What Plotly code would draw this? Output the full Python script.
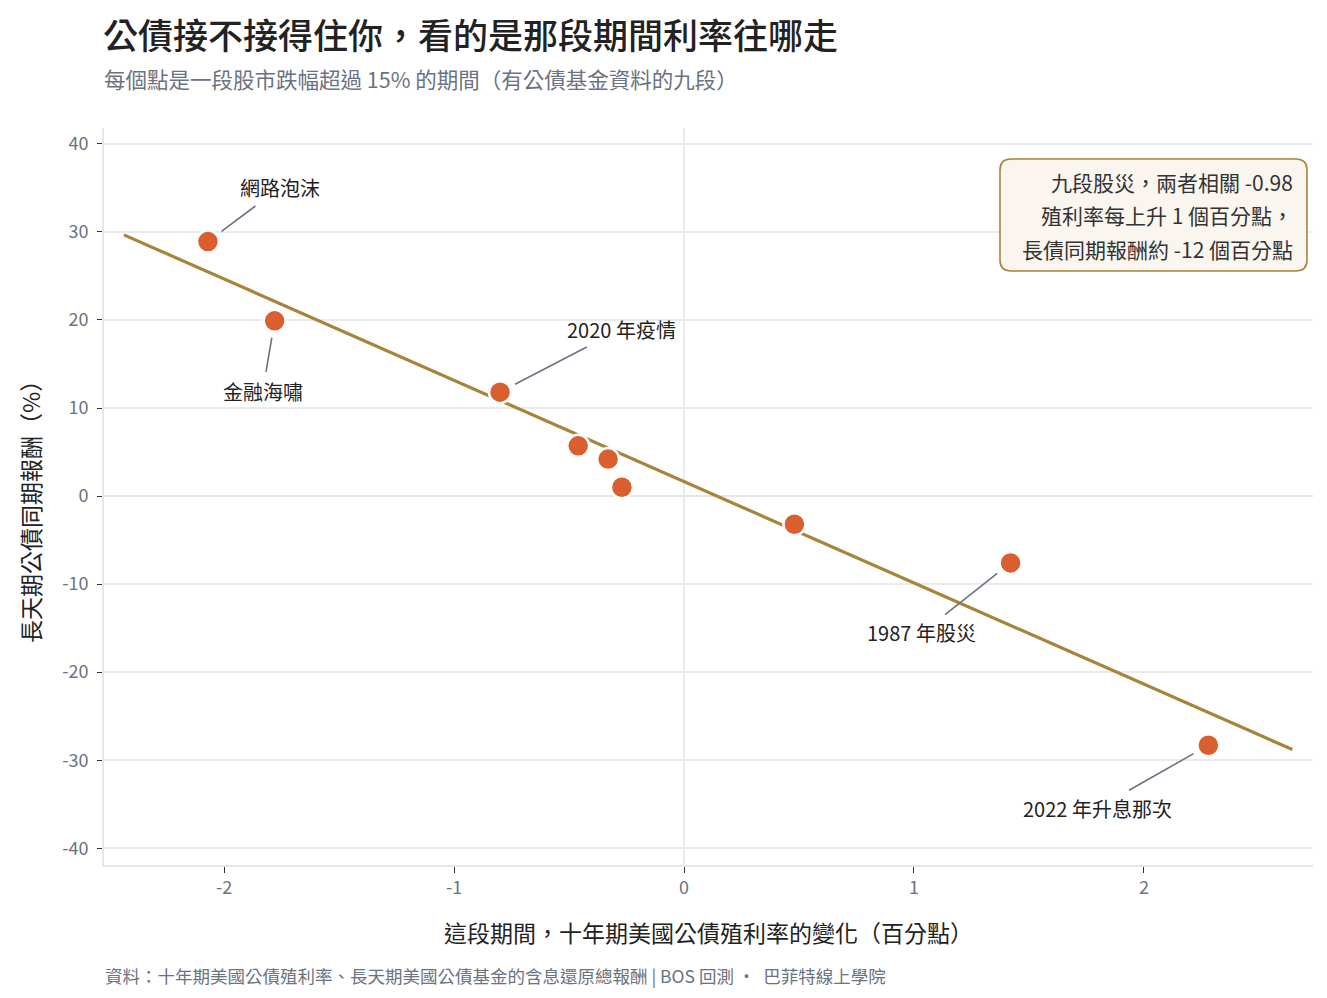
import numpy as np
import plotly.graph_objects as go

# ---- data ----
yield_change = [-2.07, -1.78, -0.80, -0.46, -0.33, -0.27, 0.48, 1.42, 2.28]
bond_return = [28.9, 19.9, 11.8, 5.7, 4.2, 1.0, -3.2, -7.6, -28.3]
episode_labels = ["網路泡沫", "金融海嘯", "2020 年疫情", "", "", "", "", "1987 年股災", "2022 年升息那次"]
x_ticks = [-2, -1, 0, 1, 2]
y_ticks = [-40, -30, -20, -10, 0, 10, 20, 30, 40]
box_lines = ["九段股災，兩者相關 -0.98", "殖利率每上升 1 個百分點，", "長債同期報酬約 -12 個百分點"]

# label offsets (pixels, text centre relative to point)
label_offsets = {
    "網路泡沫": (72, -54),
    "金融海嘯": (-12, 71),
    "2020 年疫情": (121, -63),
    "1987 年股災": (-89, 70),
    "2022 年升息那次": (-111, 63),
}

FONT = "Noto Sans CJK TC, Noto Sans, sans-serif"
DOT = "#D95F2E"
LINE = "#A6843A"
GRAY = "#6B7280"
DARK = "#222222"

x = np.array(yield_change)
y = np.array(bond_return)
slope, intercept = np.polyfit(x, y, 1)
span = x.max() - x.min()
pad = 0.084 * span
fx = np.array([x.min() - pad, x.max() + pad])
fy = slope * fx + intercept

fig = go.Figure()
fig.add_trace(go.Scatter(x=fx, y=fy, mode="lines",
                         line=dict(color=LINE, width=3.2), hoverinfo="skip", showlegend=False))
fig.add_trace(go.Scatter(x=yield_change, y=bond_return, mode="markers",
                         marker=dict(color=DOT, size=22, line=dict(color="white", width=2.5)),
                         showlegend=False))

for xi, yi, lab in zip(yield_change, bond_return, episode_labels):
    if not lab:
        continue
    ax, ay = label_offsets[lab]
    fig.add_annotation(x=xi, y=yi, xref="x", yref="y", text=lab, showarrow=True,
                       ax=ax, ay=ay, arrowhead=0, arrowwidth=1.6, arrowcolor=GRAY,
                       standoff=17, startstandoff=4,
                       font=dict(family=FONT, size=20, color=DARK))

# ---- layout geometry (page pixels; the page body adds an 8px offset) ----
OFF = 8
PL, PR, PT, PB = 104 - OFF, 1313 - OFF, 128 - OFF, 865 - OFF
W, H = PR - PL, PB - PT


def px(v):
    return (v - OFF - PL) / W


def py(v):
    return (PB - (v - OFF)) / H


bx0, bx1, by0, by1, r = 1000, 1307, 159, 271, 11
hw, hh = (bx1 - bx0) / 2, (by1 - by0) / 2
path = (f"M {-hw + r},{-hh} L {hw - r},{-hh} Q {hw},{-hh} {hw},{-hh + r} "
        f"L {hw},{hh - r} Q {hw},{hh} {hw - r},{hh} L {-hw + r},{hh} "
        f"Q {-hw},{hh} {-hw},{hh - r} L {-hw},{-hh + r} Q {-hw},{-hh} {-hw + r},{-hh} Z")
fig.add_shape(type="path", xref="paper", yref="paper", xsizemode="pixel", ysizemode="pixel",
              xanchor=px((bx0 + bx1) / 2), yanchor=py((by0 + by1) / 2), path=path,
              fillcolor="#FAF6EF", line=dict(color=LINE, width=1.6), layer="above")
for i, t in enumerate(box_lines):
    fig.add_annotation(x=px(1295), y=py(182 + i * 33.5), xref="paper", yref="paper",
                       xanchor="right", yanchor="middle", text=t, showarrow=False,
                       font=dict(family=FONT, size=21, color="#333333"))

# ---- titles / footer ----
fig.add_annotation(x=px(101), y=py(33), xref="paper", yref="paper", xanchor="left", yanchor="middle",
                   text="公債接不接得住你，看的是那段期間利率往哪走", showarrow=False,
                   font=dict(family=FONT, size=35, color=DARK, weight=500))
fig.add_annotation(x=px(102), y=py(78), xref="paper", yref="paper", xanchor="left", yanchor="middle",
                   text="每個點是一段股市跌幅超過 15% 的期間（有公債基金資料的九段）", showarrow=False,
                   font=dict(family=FONT, size=21.5, color=GRAY))
fig.add_annotation(x=px(103), y=py(975), xref="paper", yref="paper", xanchor="left", yanchor="middle",
                   text="資料：十年期美國公債殖利率、長天期美國公債基金的含息還原總報酬 | BOS 回測 ·  巴菲特線上學院",
                   showarrow=False, font=dict(family=FONT, size=17.5, color=GRAY))
fig.add_annotation(x=px(30), y=py(506), xref="paper", yref="paper", xanchor="center", yanchor="middle",
                   text="長天期公債同期報酬（%）", textangle=-90, showarrow=False,
                   font=dict(family=FONT, size=23, color=DARK))

fig.update_layout(
    width=1327, height=998,
    margin=dict(l=PL, r=1327 - PR, t=PT, b=998 - PB),
    paper_bgcolor="white", plot_bgcolor="white",
    font=dict(family=FONT),
    xaxis=dict(range=[-2.522, 2.735], tickvals=x_ticks, ticktext=[str(v) for v in x_ticks],
               showgrid=False, zeroline=True, zerolinecolor="#EBEBEB", zerolinewidth=1.6,
               showline=True, linecolor="#E6E6E6", linewidth=1.6, mirror=False,
               ticks="outside", ticklen=6, tickcolor="#333333", tickwidth=1.4,
               tickfont=dict(family=FONT, size=18, color=GRAY),
               title=dict(text="這段期間，十年期美國公債殖利率的變化（百分點）", standoff=27,
                          font=dict(family=FONT, size=23, color=DARK))),
    yaxis=dict(range=[-41.9, 41.8], tickvals=y_ticks, ticktext=[str(v) for v in y_ticks],
               showgrid=True, gridcolor="#EBEBEB", gridwidth=1.6,
               zeroline=True, zerolinecolor="#E6E6E6", zerolinewidth=2,
               showline=True, linecolor="#E6E6E6", linewidth=1.6,
               ticks="outside", ticklen=5, tickcolor="#333333", tickwidth=1.4,
               ticklabelstandoff=5,
               tickfont=dict(family=FONT, size=18, color=GRAY)),
)

fig.write_html("out.html")
